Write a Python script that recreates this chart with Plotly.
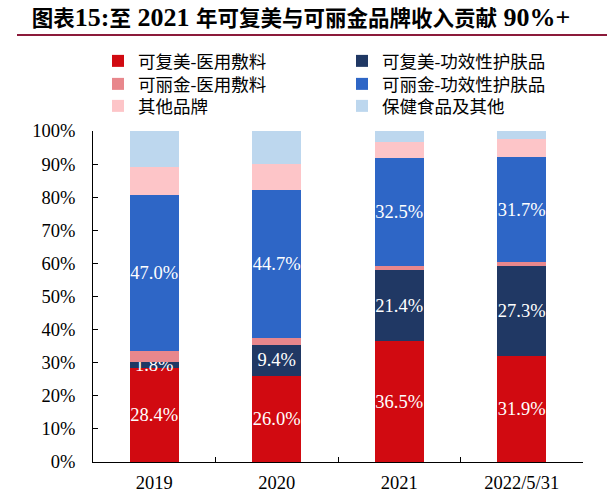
import plotly.graph_objects as go

categories = ["2019", "2020", "2021", "2022/5/31"]
series_names = ["可复美-医用敷料", "可复美-功效性护肤品", "可丽金-医用敷料",
                "可丽金-功效性护肤品", "其他品牌", "保健食品及其他"]
kfm_med = [28.4, 26.0, 36.5, 31.9]
kfm_skin = [1.8, 9.4, 21.4, 27.3]
klj_med = [3.4, 2.2, 1.3, 1.2]
klj_skin = [47.0, 44.7, 32.5, 31.7]
other_brand = [8.6, 7.7, 4.9, 5.5]
health_other = [10.8, 10.0, 3.4, 2.4]
show_labels = [True, True, False, True, False, False]
colors = ["#D10A11", "#203864", "#E8878C", "#2E66C6", "#FDC5C8", "#BDD7EE"]

series = [kfm_med, kfm_skin, klj_med, klj_skin, other_brand, health_other]

serif = "Liberation Serif, Times New Roman, Noto Sans CJK SC, serif"
cjk = "Liberation Serif, Noto Sans CJK SC, serif"

PT, PB, PL, PR = 131, 462, 93, 583
PH, PW = PB - PT, PR - PL

# legend slots: (left x px of legend box, row centre y px)
legend_cols = [98, 342]
legend_rows = [61, 84, 106]
legend_ids = ["legend", "legend2", "legend3", "legend4", "legend5", "legend6"]

label_font = dict(color="white", size=18.5, family=serif)

fig = go.Figure()
for i, (name, vals, col, lab) in enumerate(zip(series_names, series, colors, show_labels)):
    fig.add_trace(go.Bar(
        x=categories, y=vals, name=name, legend=legend_ids[i],
        marker=dict(color=col, line=dict(width=0)),
        text=[f"{v:.1f}%" for v in vals] if lab else None,
        texttemplate="%{text}" if lab else None,
        textposition="inside" if lab else "none",
        insidetextanchor="middle",
        constraintext="none",
        textangle=0,
        textfont=label_font,
        insidetextfont=label_font,
        width=0.4,
    ))

title_text = ("<b>图表<span style='font-size:26px'>15:</span>至"
              "<span style='font-size:26px'> 2021 </span>年可复美与可丽金品牌收入贡献"
              "<span style='font-size:26px'> 90%+</span></b>")

legends = {}
for i, lid in enumerate(legend_ids):
    cx = legend_cols[i % 2]
    cy = legend_rows[i // 2]
    legends[lid] = dict(orientation="v", xref="paper", yref="paper",
                        x=(cx - PL) / PW, y=(PB - cy) / PH,
                        xanchor="left", yanchor="middle",
                        font=dict(size=17.5, family=cjk, color="black"),
                        bgcolor="rgba(0,0,0,0)")

fig.update_layout(
    barmode="stack",
    width=616, height=503,
    margin=dict(l=PL, r=616 - PR, t=PT, b=503 - PB, autoexpand=False),
    paper_bgcolor="white", plot_bgcolor="white",
    title=dict(text=title_text,
               x=301 / 616, xref="container", xanchor="center",
               y=1 - 18 / 503, yanchor="middle",
               font=dict(size=21.5, family=cjk, color="black")),
    showlegend=True,
    **legends,
)
fig.update_xaxes(
    type="category", showline=True, linecolor="black", linewidth=1,
    ticks="inside", tickson="boundaries", ticklen=5, tickcolor="black",
    ticklabelstandoff=4, automargin=False,
    tickfont=dict(size=18.5, family=serif, color="black"), showgrid=False,
)
fig.update_yaxes(
    range=[0, 100], dtick=10, ticksuffix="%", showline=True, linecolor="black",
    linewidth=1, ticks="inside", ticklen=5, tickcolor="black",
    ticklabelstandoff=13, automargin=False,
    tickfont=dict(size=18.5, family=serif, color="black"), showgrid=False,
    zeroline=False,
)
fig.add_shape(type="line", xref="paper", yref="paper",
              x0=(17 - PL) / PW, x1=(607 - PL) / PW,
              y0=(PB - 35) / PH, y1=(PB - 35) / PH,
              line=dict(color="#8B1A3A", width=2))

fig.write_html("out.html", config={"displayModeBar": False},
               post_script="document.body.style.margin='0';")
